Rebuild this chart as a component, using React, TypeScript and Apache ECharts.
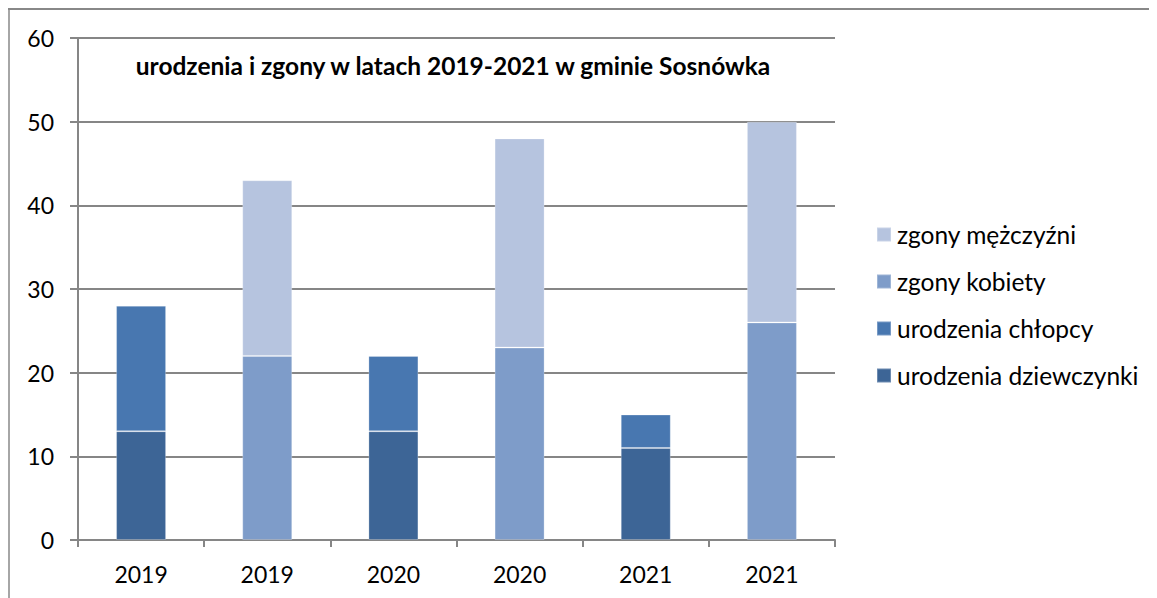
import React, { useEffect, useRef } from "react";
import * as echarts from "echarts";

const categories = ["2019", "2019", "2020", "2020", "2021", "2021"];
const urodzeniaDziewczynki = [13, null, 13, null, 11, null];
const urodzeniaChlopcy = [15, null, 9, null, 4, null];
const zgonyKobiety = [null, 22, null, 23, null, 26];
const zgonyMezczyzni = [null, 21, null, 25, null, 24];
const yTicks = { min: 0, max: 60, interval: 10 };
const titleText = "urodzenia i zgony w latach 2019-2021 w gminie Sosnówka";

const FONT = "Lato, 'Noto Sans', sans-serif";

export default function App() {
  const ref = useRef<HTMLDivElement>(null);
  useEffect(() => {
    if (!ref.current) return;
    const chart = echarts.init(ref.current, undefined, { renderer: "svg" });
    const mk = (name: string, data: (number | null)[], color: string) => ({
      name,
      type: "bar",
      stack: "all",
      data,
      barWidth: 50,
      itemStyle: { color, borderColor: "rgba(255,255,255,0.25)", borderWidth: 1 },
    });
    chart.setOption({
      animation: false,
      textStyle: { fontFamily: FONT, color: "#000" },
      title: {
        text: titleText,
        left: 440,
        top: 40,
        textAlign: "center",
        textStyle: { fontFamily: FONT, fontWeight: "bold", fontSize: 24.5, color: "#000" },
      },
      graphic: [
        { type: "line", shape: { x1: 0, y1: 1, x2: 1149, y2: 1 }, style: { stroke: "#888", lineWidth: 2 } },
        { type: "line", shape: { x1: 1, y1: 0, x2: 1, y2: 590 }, style: { stroke: "#888", lineWidth: 1.5 } },
      ],
      legend: {
        orient: "vertical",
        left: 863,
        top: 209,
        itemWidth: 14,
        itemHeight: 14,
        itemGap: 22,
        icon: "rect",
        data: ["zgony mężczyźni", "zgony kobiety", "urodzenia chłopcy", "urodzenia dziewczynki"],
        textStyle: { fontFamily: FONT, fontSize: 24.5, color: "#000", padding: [0, 0, 0, 1] },
      },
      grid: { left: 70, right: 322, top: 30, bottom: 58, containLabel: false },
      xAxis: {
        type: "category",
        data: categories,
        axisLine: { lineStyle: { color: "#868686", width: 2 } },
        axisTick: { show: true, length: 7, interval: 0, lineStyle: { color: "#868686", width: 2 } },
        axisLabel: { fontFamily: FONT, fontSize: 23, color: "#000", margin: 22, interval: 0 },
      },
      yAxis: {
        type: "value",
        min: yTicks.min,
        max: yTicks.max,
        interval: yTicks.interval,
        axisLine: { show: true, lineStyle: { color: "#868686", width: 2 } },
        axisTick: { show: true, length: 8, lineStyle: { color: "#868686", width: 2 } },
        axisLabel: { fontFamily: FONT, fontSize: 23, color: "#000", margin: 24 },
        splitLine: { show: true, lineStyle: { color: "#868686", width: 2 } },
      },
      series: [
        mk("urodzenia dziewczynki", urodzeniaDziewczynki, "#3D6596"),
        mk("urodzenia chłopcy", urodzeniaChlopcy, "#4877B0"),
        mk("zgony kobiety", zgonyKobiety, "#7E9CC9"),
        mk("zgony mężczyźni", zgonyMezczyzni, "#B6C4DF"),
      ],
    });
    return () => chart.dispose();
  }, []);
  return <div ref={ref} style={{ width: 1149, height: 590 }} />;
}
